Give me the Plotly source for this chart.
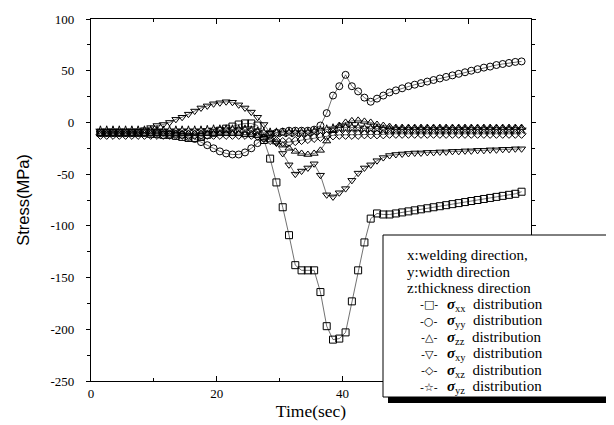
import plotly.graph_objects as go

# ---------------- data ----------------
time_s = [1.5, 2.5, 3.5, 4.5, 5.5, 6.5, 7.5, 8.5, 9.5, 10.5,
          11.5, 12.5, 13.5, 14.5, 15.5, 16.5, 17.5, 18.5, 19.5, 20.5,
          21.5, 22.5, 23.5, 24.5, 25.5, 26.5, 27.5, 28.5, 29.5, 30.5,
          31.5, 32.5, 33.5, 34.5, 35.5, 36.5, 37.5, 38.5, 39.5, 40.5,
          41.5, 42.5, 43.5, 44.5, 45.5, 46.5, 47.5, 48.5, 49.5, 50.5,
          51.5, 52.5, 53.5, 54.5, 55.5, 56.5, 57.5, 58.5, 59.5, 60.5,
          61.5, 62.5, 63.5, 64.5, 65.5, 66.5, 67.5, 68.5]

sigma_xx = [-10, -10, -10, -10, -10, -10, -10, -10, -11, -11,
            -12, -12, -13, -14, -15, -15, -14, -12, -10, -8,
            -6, -4, -2, -1, -1, -3, -17, -35, -58, -82,
            -109, -138, -143, -143, -143, -164, -197, -210, -209, -203,
            -173, -143, -116, -93, -88, -89, -89, -88, -87, -86,
            -85, -84, -83, -82, -81, -80, -79, -78, -77, -76,
            -75, -74, -73, -72, -71, -70, -69, -67]

sigma_yy = [-10, -10, -10, -10, -10, -10, -10, -10, -10, -10,
            -10, -11, -11, -12, -14, -16, -19, -22, -25, -28,
            -30, -31, -31, -29, -25, -20, -15, -12, -10, -9,
            -8, -8, -8, -8, -7, -3, 9, 26, 35, 46,
            35, 30, 24, 20, 23, 26, 29, 31, 33, 35,
            36.5, 38, 39.5, 41, 42.5, 44, 45.5, 47, 48.5, 50,
            51.5, 53, 54, 55.5, 56.5, 57.5, 58.5, 59]

sigma_zz = [-11, -11, -11, -11, -11, -11, -11, -11, -11, -11,
            -11, -11, -11, -11, -11, -11, -11, -11, -11, -11,
            -11, -11, -11, -12, -12, -13, -15, -17, -19, -22,
            -25, -28, -30, -31, -30, -27, -18, -8, -3, 0,
            1.5, 2, 1, 0, -2, -3, -4, -5, -5, -5,
            -5, -5, -5, -5, -5, -5, -5, -5, -5, -5,
            -5, -5, -5, -5, -5, -5, -5, -5]

sigma_xy = [-10, -10, -10, -10, -10, -10, -9, -7, -5, -3,
            -2, 0, 3, 5, 8, 11, 14, 16, 18, 19,
            20, 19.5, 17, 14, 10, 5, -2, -10, -20, -30,
            -41, -50, -47, -44, -40, -51, -70, -72, -68, -64,
            -56, -49, -44, -41, -37, -34, -32, -31, -30.5, -30,
            -29.5, -29.5, -29, -29, -28.5, -28.5, -28, -28, -27.5, -27.5,
            -27, -27, -26.5, -26.5, -26, -26, -25.5, -25.5]

sigma_xz = [-12, -12, -12, -12, -12, -12, -12, -12, -12, -12,
            -12, -12, -12, -12, -12, -12, -12, -12, -12, -12,
            -12, -12, -12, -12, -12, -13, -15, -17, -18, -19,
            -19, -18, -17, -16, -15, -14, -13, -12.5, -12, -12,
            -12, -12, -11.5, -11.5, -11.5, -11.5, -11, -11, -11, -11,
            -11, -11, -11, -11, -11, -11, -11, -11, -11, -11,
            -11, -11, -11, -11, -11, -11, -11, -11]

sigma_yz = [-8, -8, -8, -8, -8, -8, -8, -8, -8, -8,
            -8, -8, -8, -8, -8, -8, -8, -7.5, -7, -7,
            -7, -7, -7, -7, -8, -9, -10, -10, -10, -10,
            -10, -10, -10, -10, -9, -8, -7, -6, -5, -5,
            -5, -5, -6, -6, -6, -7, -7, -7, -7, -7,
            -7, -7, -7, -7, -7, -7, -7, -7, -7, -7,
            -7, -7, -7, -7, -7, -7, -7, -7]

series_labels = ["<b><i>σ</i></b><sub>xx</sub>  distribution",
                 "<b><i>σ</i></b><sub>yy</sub>  distribution",
                 "<b><i>σ</i></b><sub>zz</sub>  distribution",
                 "<b><i>σ</i></b><sub>xy</sub>  distribution",
                 "<b><i>σ</i></b><sub>xz</sub>  distribution",
                 "<b><i>σ</i></b><sub>yz</sub>  distribution"]
series_values = [sigma_xx, sigma_yy, sigma_zz, sigma_xy, sigma_xz, sigma_yz]
series_symbols = ["square-open", "circle-open", "triangle-up-open",
                  "triangle-down-open", "diamond-open", "star-open"]
legend_keys = ["-□-", "-○-", "-△-", "-▽-", "-◇-", "-☆-"]

legend_header = ["x:welding direction,", "y:width direction", "z:thickness direction"]

y_tick_vals = [100, 50, 0, -50, -100, -150, -200, -250]
y_tick_text = ["100", "50", "0", "-50", "-100", "-150", "-200", "-250"]
x_tick_vals = [0, 20, 40, 60]
x_tick_text = ["0", "20", "40", ""]   # the "60" label is hidden behind the legend box

# ---------------- figure ----------------
SERIF = "Liberation Serif, Times New Roman, serif"
SANS = "Liberation Sans, Arial, sans-serif"

fig = go.Figure()
for label, vals, sym in zip(series_labels, series_values, series_symbols):
    fig.add_trace(go.Scatter(
        x=time_s, y=vals, name=label, mode="lines+markers",
        line=dict(color="#333333", width=0.7),
        marker=dict(symbol=sym, size=7, color="black",
                    line=dict(color="black", width=1)),
        showlegend=False,
    ))

W, H = 614, 425
L, R, T, B = 83, 91, 11, 52
pw, ph = W - L - R, H - T - B


def px2paper_x(px):
    return (px - L) / pw


def px2paper_y(py):
    return (H - B - py) / ph


# legend box: shadow then white box
shapes = [
    dict(type="rect", xref="paper", yref="paper", layer="above",
         x0=px2paper_x(380), x1=px2paper_x(611),
         y0=px2paper_y(395), y1=px2paper_y(232),
         fillcolor="black", line=dict(width=0)),
    dict(type="rect", xref="paper", yref="paper", layer="above",
         x0=px2paper_x(375), x1=px2paper_x(605),
         y0=px2paper_y(389), y1=px2paper_y(227),
         fillcolor="white", line=dict(color="black", width=1)),
]

ROW0, ROW_STEP = 247, 16.5
annotations = []
for i, line in enumerate(legend_header):
    annotations.append(dict(
        text=line, xref="paper", yref="paper",
        x=px2paper_x(397), y=px2paper_y(ROW0 + ROW_STEP * i),
        xanchor="left", yanchor="middle", showarrow=False,
        font=dict(family=SERIF, size=15, color="black")))
for j, (key, label) in enumerate(zip(legend_keys, series_labels)):
    row_y = px2paper_y(ROW0 + ROW_STEP * (len(legend_header) + j))
    annotations.append(dict(
        text=key, xref="paper", yref="paper",
        x=px2paper_x(421), y=row_y, xanchor="center", yanchor="middle",
        showarrow=False, font=dict(family="DejaVu Sans", size=11, color="black")))
    annotations.append(dict(
        text=label, xref="paper", yref="paper",
        x=px2paper_x(437), y=row_y, xanchor="left", yanchor="middle",
        showarrow=False, font=dict(family=SERIF, size=15, color="black")))

fig.update_layout(
    width=W, height=H,
    margin=dict(l=L, r=R, t=T, b=B, autoexpand=False),
    paper_bgcolor="white", plot_bgcolor="white",
    showlegend=False,
    shapes=shapes,
    annotations=annotations,
    font=dict(family=SERIF, color="black"),
)

fig.update_xaxes(
    range=[0, 70], tickvals=x_tick_vals, ticktext=x_tick_text,
    showgrid=False, zeroline=False,
    showline=True, linecolor="black", linewidth=1.2, mirror="ticks",
    ticks="inside", ticklen=5, tickcolor="black",
    minor=dict(dtick=10, tick0=0, ticks="inside", ticklen=3, tickcolor="black"),
    tickfont=dict(family=SERIF, size=13, color="black"),
    ticklabelstandoff=0,
    title=dict(text="Time(sec)", font=dict(family=SERIF, size=17.5, color="black"), standoff=2),
)
fig.update_yaxes(
    range=[-250, 100], tickvals=y_tick_vals, ticktext=y_tick_text,
    showgrid=False, zeroline=False,
    showline=True, linecolor="black", linewidth=1.2, mirror="ticks",
    ticks="outside", ticklen=4, tickcolor="black",
    minor=dict(dtick=25, tick0=0, ticks="outside", ticklen=3, tickcolor="black"),
    tickfont=dict(family=SERIF, size=13, color="black"),
    ticklabelstandoff=9,
    title=dict(text="Stress(MPa)", font=dict(family=SANS, size=16.5, color="black"), standoff=16),
)

fig.write_html("out.html")
